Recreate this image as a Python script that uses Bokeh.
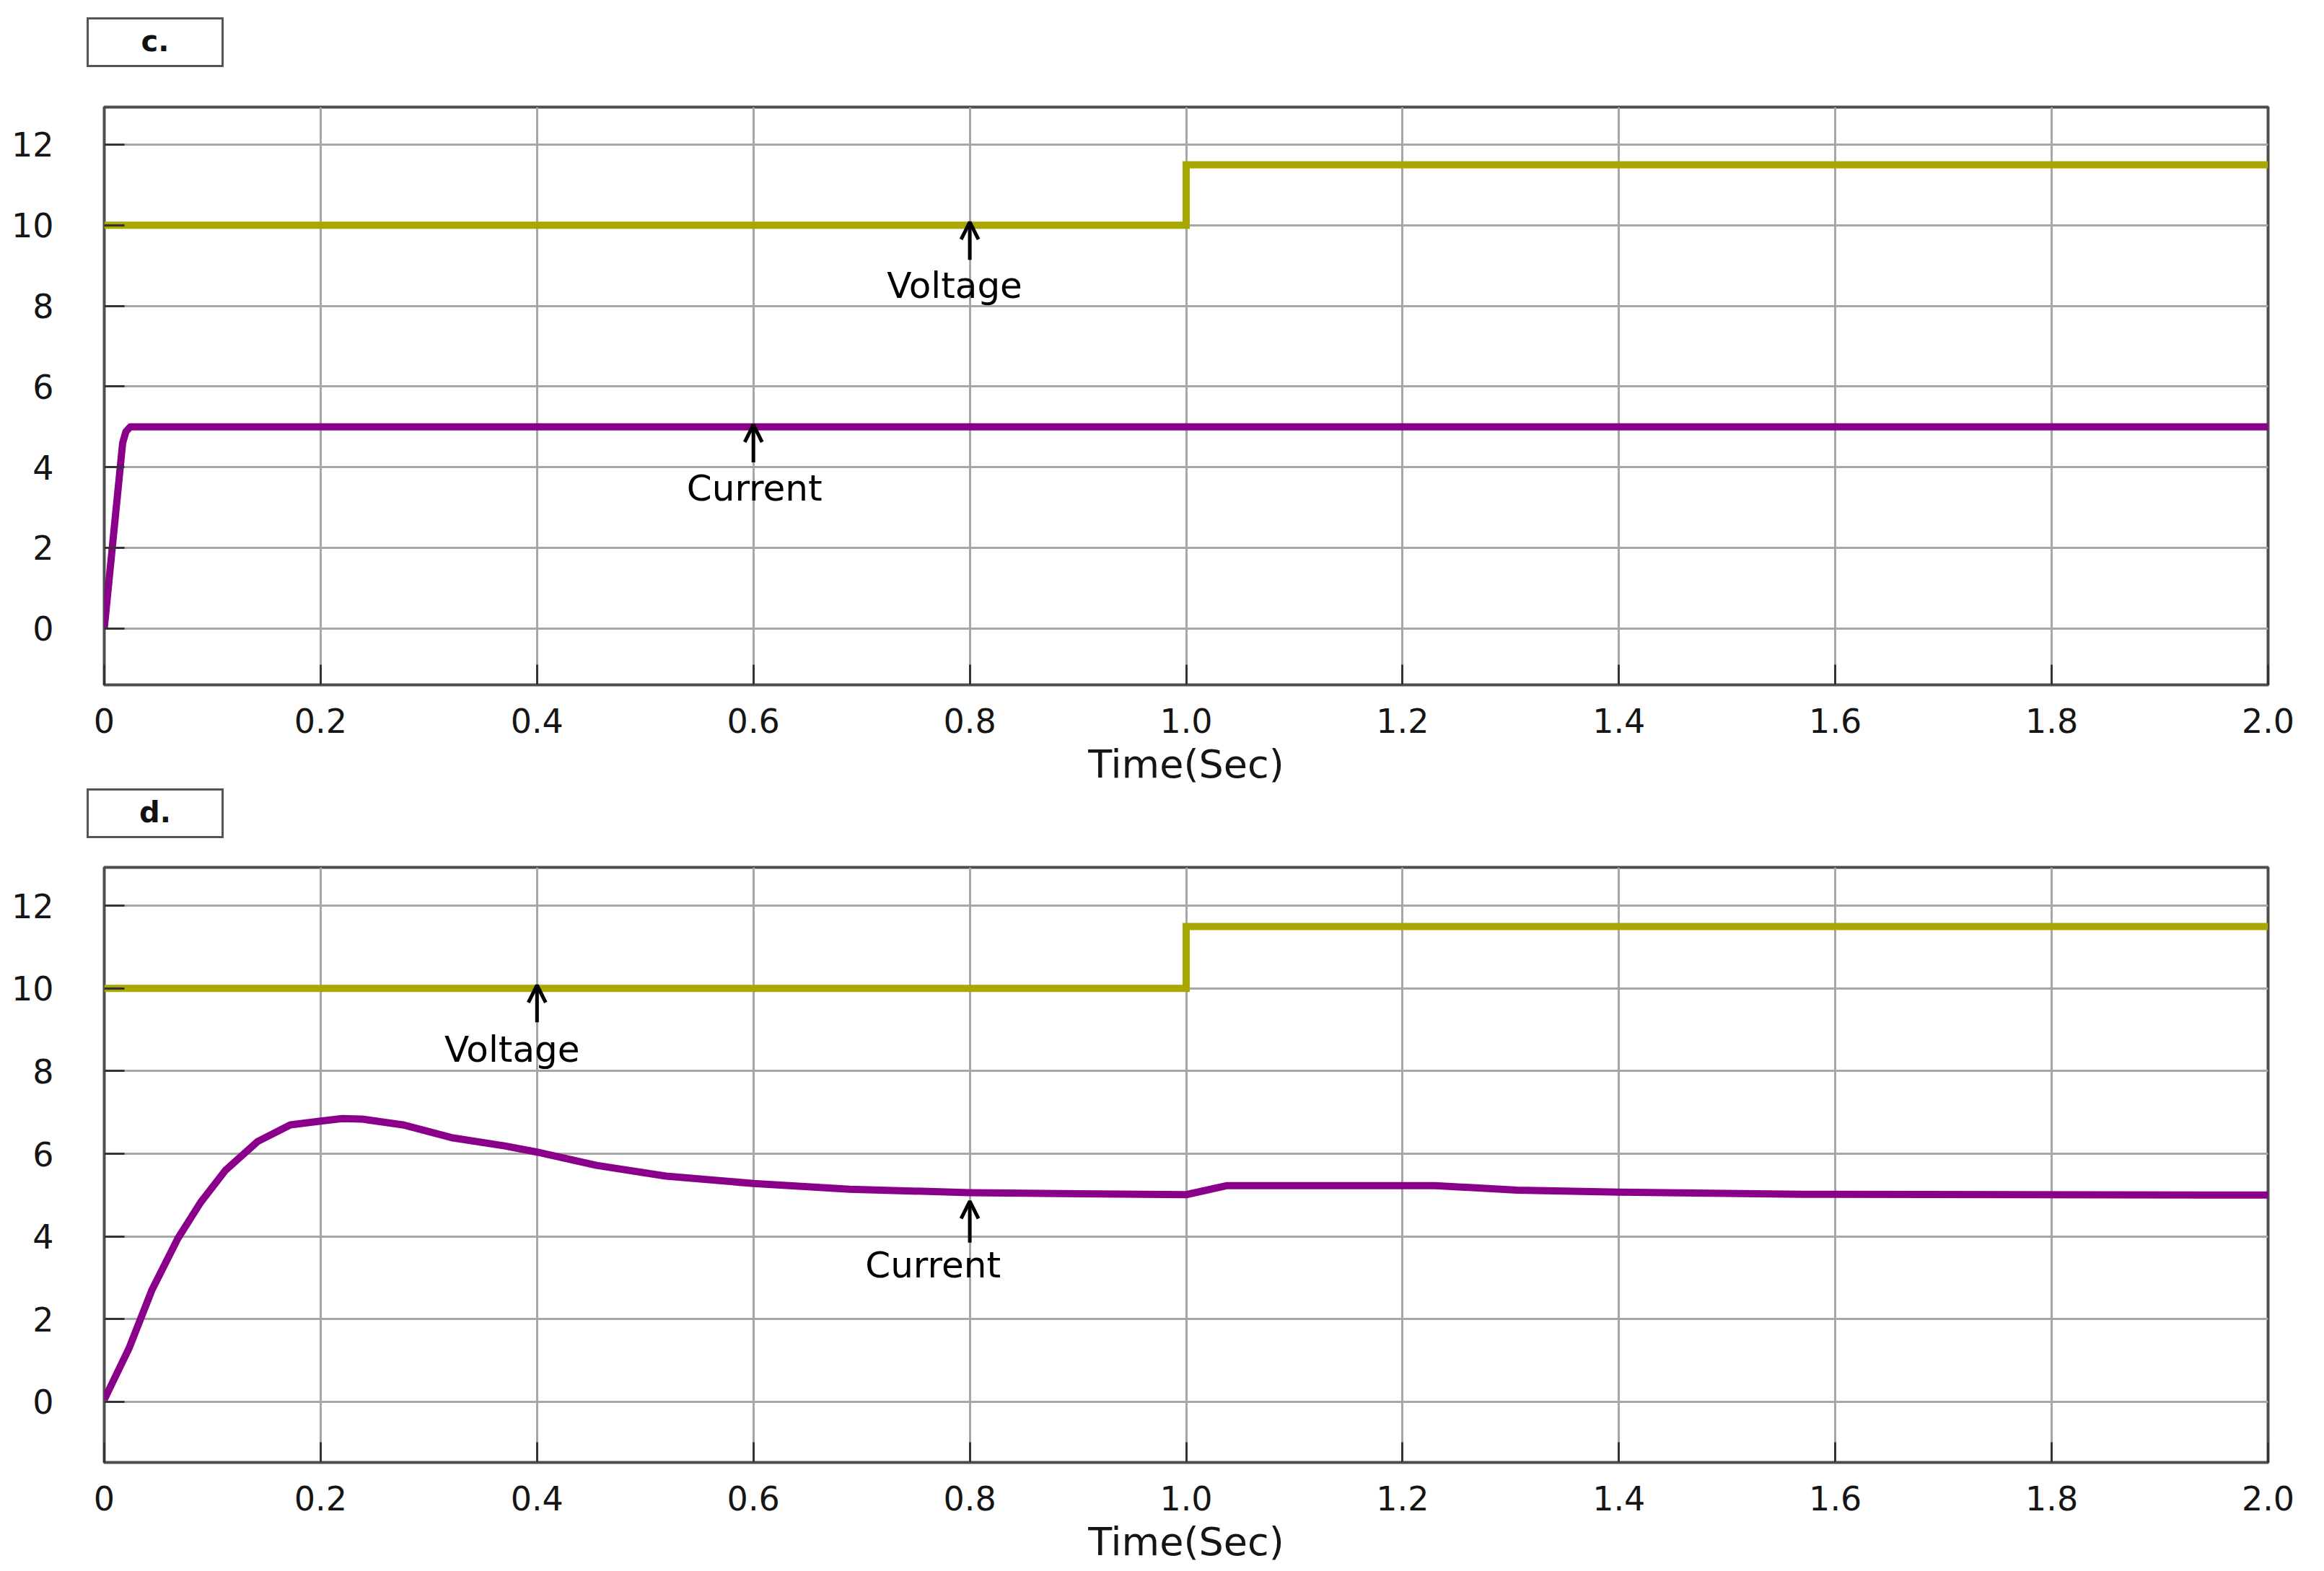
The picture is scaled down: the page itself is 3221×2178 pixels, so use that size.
from bokeh.plotting import figure
from bokeh.models import FixedTicker, Label, Arrow, OpenHead, Range1d, Div
from bokeh.layouts import column
from bokeh.embed import file_html
from bokeh.resources import INLINE

# ---------------- data ----------------
x_ticks = [0, 0.2, 0.4, 0.6, 0.8, 1.0, 1.2, 1.4, 1.6, 1.8, 2.0]
x_tick_labels = ["0", "0.2", "0.4", "0.6", "0.8", "1.0", "1.2", "1.4", "1.6", "1.8", "2.0"]
y_ticks = [0, 2, 4, 6, 8, 10, 12]

# panel c
c_volt_t = [0, 1.0, 1.0, 2.0]
c_volt_v = [10, 10, 11.5, 11.5]
c_curr_t = [0, 0.017, 0.02, 0.024, 2.0]
c_curr_i = [0, 4.6, 4.88, 5.0, 5.0]

# panel d
d_volt_t = [0, 1.0, 1.0, 2.0]
d_volt_v = [10, 10, 11.5, 11.5]
d_curr_t = [0, 0.023, 0.044, 0.068, 0.089, 0.112, 0.142, 0.172, 0.2, 0.22, 0.238,
            0.276, 0.321, 0.37, 0.4, 0.455, 0.519, 0.6, 0.689, 0.8, 0.901, 1.0,
            1.038, 1.23, 1.306, 1.4, 1.57, 2.0]
d_curr_i = [0.05, 1.3, 2.7, 3.95, 4.82, 5.6, 6.3, 6.7, 6.79, 6.85, 6.84,
            6.70, 6.39, 6.19, 6.04, 5.72, 5.46, 5.28, 5.14, 5.06, 5.03, 5.01,
            5.23, 5.23, 5.12, 5.07, 5.02, 5.0]

VOLT_COLOR = "#a8a800"
CURR_COLOR = "#8b008b"
FONT = "DejaVu Sans"
TXT = "#151515"


def tag_box(tag, top_margin):
    return Div(text=tag, width=190, height=69, margin=(top_margin, 0, 0, 120),
               styles={"border": "3px solid #555555", "box-sizing": "border-box",
                       "background-color": "white", "text-align": "center",
                       "font-family": FONT, "font-size": "40px", "font-weight": "bold",
                       "color": "#111111", "line-height": "60px"})


def make_panel(height, b_top, b_bottom, y_lo, y_hi, vt, vv, ct, ci,
               volt_ann, curr_ann):
    p = figure(width=3215, height=height, output_backend="svg", toolbar_location=None,
               x_range=Range1d(0, 2.0), y_range=Range1d(y_lo, y_hi),
               min_border_left=144, min_border_right=72,
               min_border_top=b_top, min_border_bottom=b_bottom)
    p.background_fill_color = "white"
    p.border_fill_color = "white"
    p.outline_line_color = "#4d4d4d"
    p.outline_line_width = 4

    for ax in (p.xaxis[0], p.yaxis[0]):
        ax.axis_line_color = None
        ax.major_tick_in = 28
        ax.major_tick_out = 0
        ax.major_tick_line_color = "#333333"
        ax.major_tick_line_width = 3
        ax.minor_tick_line_color = None
        ax.major_label_text_font = FONT
        ax.major_label_text_font_size = "46px"
        ax.major_label_text_color = TXT

    p.xaxis.ticker = FixedTicker(ticks=x_ticks)
    p.xaxis.major_label_overrides = {t: l for t, l in zip(x_ticks, x_tick_labels)}
    p.xaxis.major_label_standoff = 32
    p.xaxis.axis_label = "Time(Sec)"
    p.xaxis.axis_label_text_font = FONT
    p.xaxis.axis_label_text_font_size = "54px"
    p.xaxis.axis_label_text_font_style = "normal"
    p.xaxis.axis_label_text_color = TXT
    p.xaxis.axis_label_standoff = 9

    p.yaxis.ticker = FixedTicker(ticks=y_ticks)
    p.yaxis.major_label_standoff = 70

    p.xgrid.ticker = FixedTicker(ticks=x_ticks)
    p.ygrid.ticker = FixedTicker(ticks=y_ticks)
    for g in (p.xgrid[0], p.ygrid[0]):
        g.grid_line_color = "#a6a6a6"
        g.grid_line_width = 3

    p.line(vt, vv, line_color=VOLT_COLOR, line_width=10, line_join="miter")
    p.line(ct, ci, line_color=CURR_COLOR, line_width=10, line_join="round")

    for (ax_x, y0, y1, lx, ly, txt) in (volt_ann, curr_ann):
        p.add_layout(Arrow(end=OpenHead(size=24, line_width=5, line_color="black"),
                           x_start=ax_x, y_start=y0, x_end=ax_x, y_end=y1,
                           line_width=5, line_color="black"))
        p.add_layout(Label(x=lx, y=ly, text=txt, text_align="center",
                           text_baseline="alphabetic", text_font=FONT,
                           text_font_size="50px", text_color="black"))
    return p


# page layout (y, px): box c 24-93, frame c 148-949, box d 1093-1162, frame d 1202-2027
H1 = 1000   # from 93 to 1093
H2 = 1013   # from 1162 to 2175
p1 = make_panel(H1, 148 - 93, 1093 - 949, -1.4, 12.93,
                c_volt_t, c_volt_v, c_curr_t, c_curr_i,
                (0.8, 9.14, 10.08, 0.786, 8.50, "Voltage"),
                (0.6, 4.12, 5.05, 0.601, 3.48, "Current"))
p2 = make_panel(H2, 1202 - 1162, 1162 + H2 - 2027, -1.47, 12.93,
                d_volt_t, d_volt_v, d_curr_t, d_curr_i,
                (0.4, 9.18, 10.08, 0.377, 8.53, "Voltage"),
                (0.8, 3.85, 4.85, 0.766, 3.30, "Current"))

layout = column(tag_box("c.", 24), p1, tag_box("d.", 0), p2)
open("out.html", "w").write(file_html(layout, INLINE))
